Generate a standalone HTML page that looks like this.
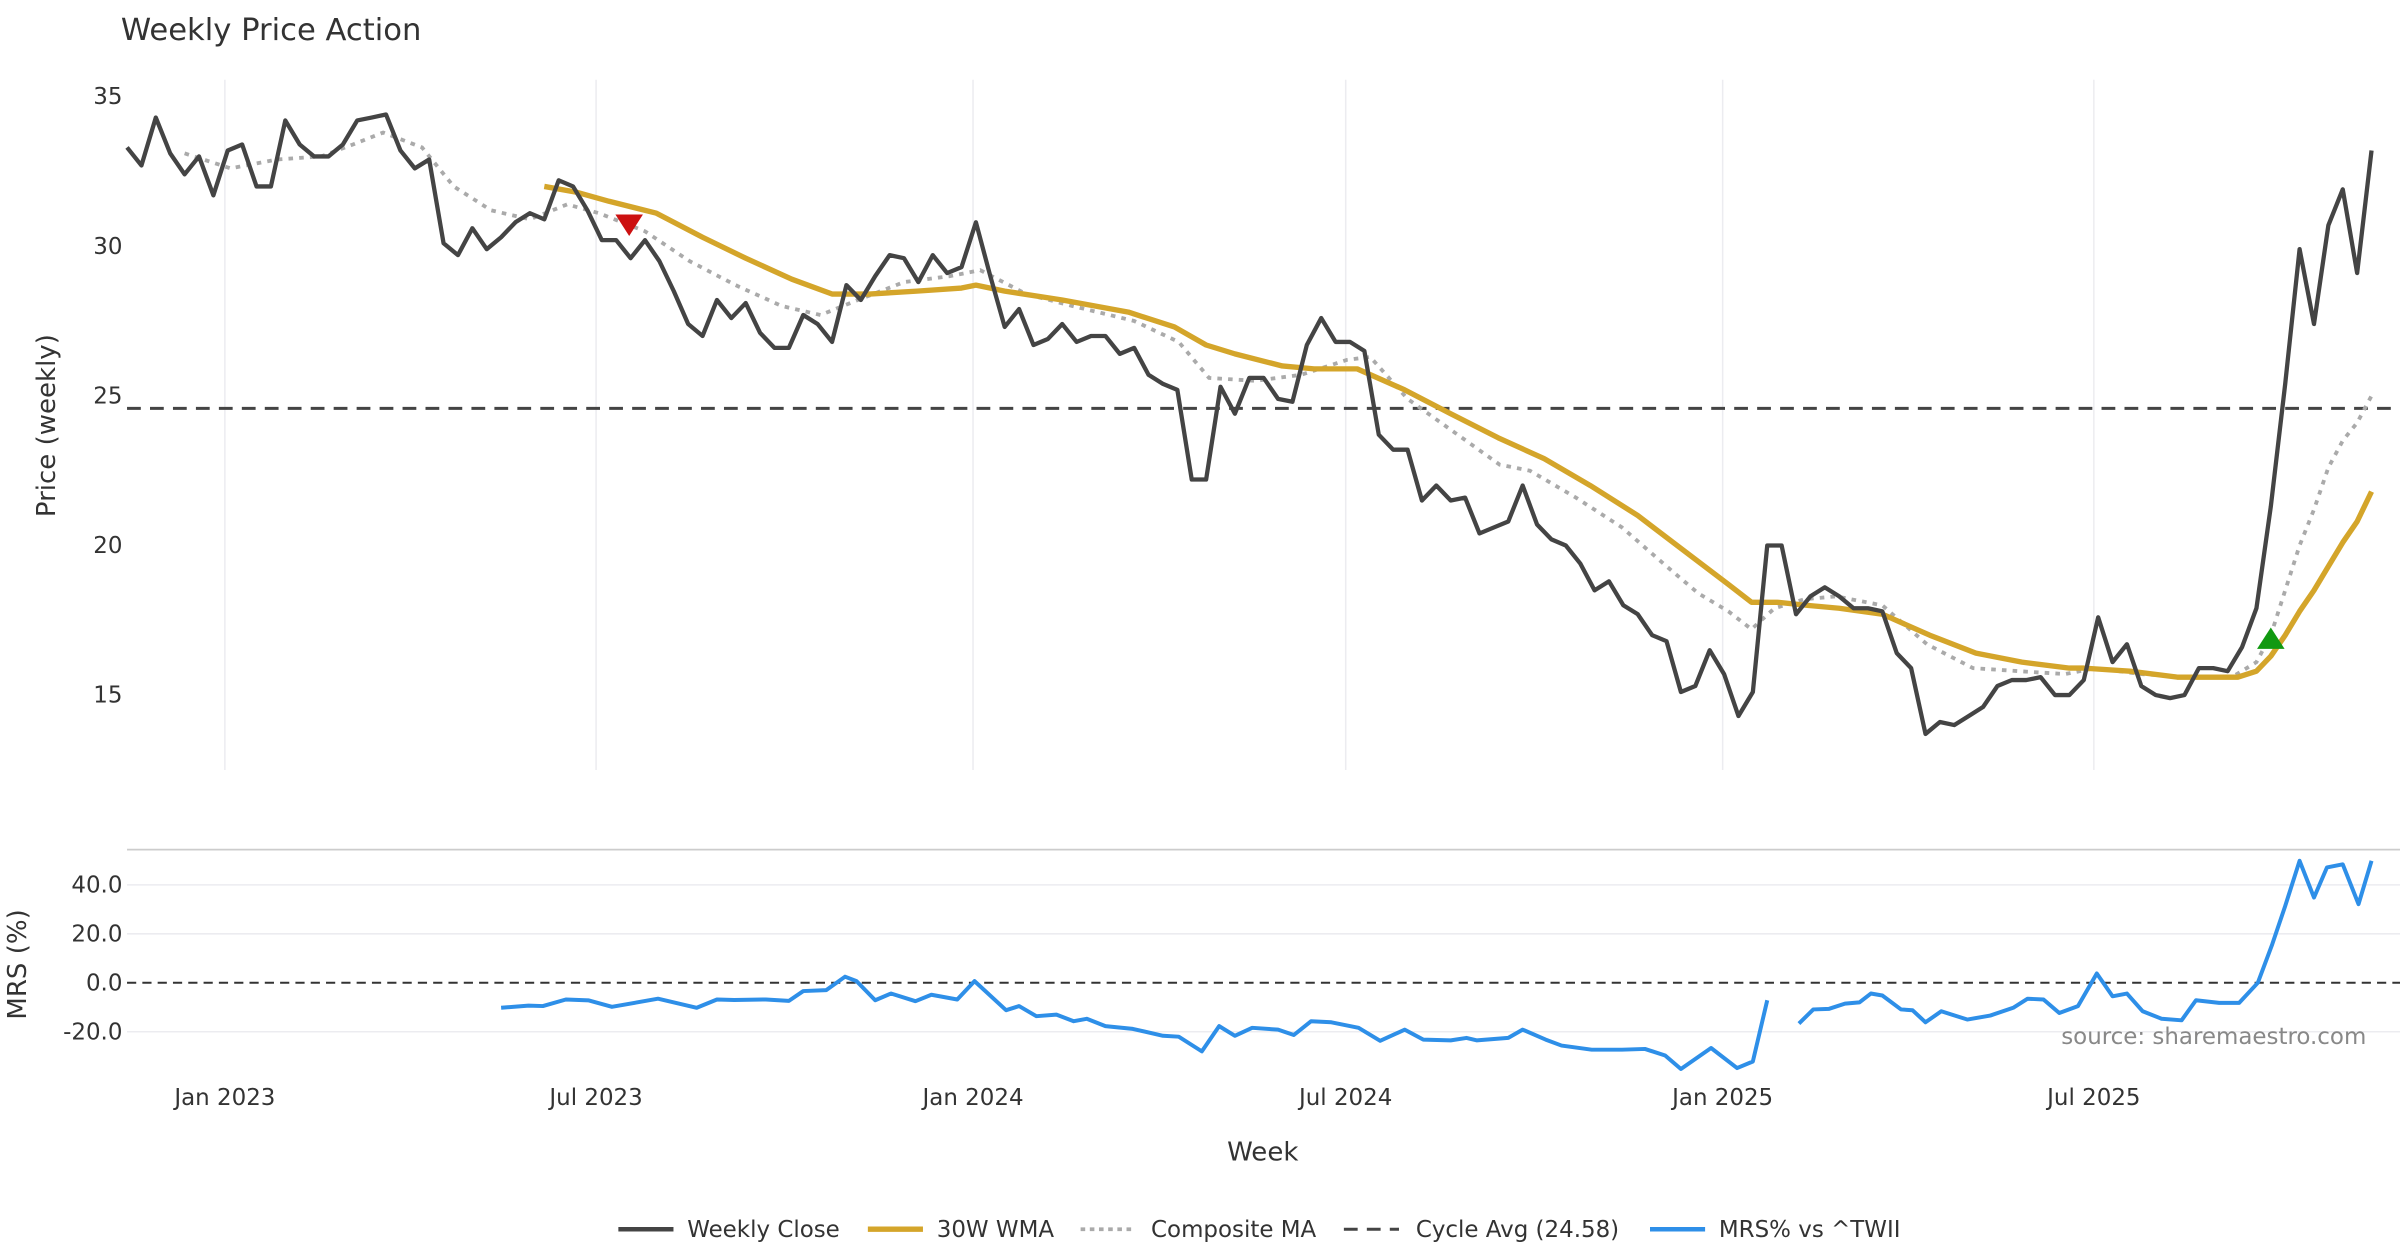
<!DOCTYPE html>
<html><head><meta charset="utf-8"><style>
html,body{margin:0;padding:0;background:#fff;}
svg{display:block;font-family:"DejaVu Sans","Liberation Sans",sans-serif;}
</style></head><body>
<svg id="chart" width="2400" height="1260" viewBox="0 0 1568 823" xmlns="http://www.w3.org/2000/svg">
<text x="79" y="26" font-size="20" fill="#333">Weekly Price Action</text>
<g id="grid"></g>
<g id="price"></g>
<g id="mrs"></g>
<text transform="translate(36,278) rotate(-90)" text-anchor="middle" font-size="17" fill="#333">Price (weekly)</text>
<text transform="translate(17,630) rotate(-90)" text-anchor="middle" font-size="17" fill="#333">MRS (%)</text>
<text x="825" y="758" text-anchor="middle" font-size="17" fill="#333">Week</text>
<text x="1546" y="682" text-anchor="end" font-size="15" fill="#888">source: sharemaestro.com</text>
<g id="legend" font-size="15" fill="#333">
<g><line x1="404" y1="803" x2="440" y2="803" stroke="#444" stroke-width="3"/><text x="449" y="808">Weekly Close</text></g>
<g><line x1="567" y1="803" x2="603" y2="803" stroke="#D4A52A" stroke-width="3.5"/><text x="612" y="808">30W WMA</text></g>
<g><line x1="706" y1="803" x2="742" y2="803" stroke="#aaa" stroke-width="2.5" stroke-dasharray="3,3"/><text x="752" y="808">Composite MA</text></g>
<g><line x1="878" y1="803" x2="914" y2="803" stroke="#444" stroke-width="2" stroke-dasharray="9,6"/><text x="925" y="808">Cycle Avg (24.58)</text></g>
<g><line x1="1078" y1="803" x2="1114" y2="803" stroke="#2E8FE8" stroke-width="3"/><text x="1123" y="808">MRS% vs ^TWII</text></g>
</g>
</svg>
<script>
const closeVals=[33.3,32.7,34.3,33.1,32.4,33.0,31.7,33.2,33.4,32.0,32.0,34.2,33.4,33.0,33.0,33.4,34.2,34.3,34.4,33.2,32.6,32.9,30.1,29.7,30.6,29.9,30.3,30.8,31.1,30.9,32.2,32.0,31.2,30.2,30.2,29.6,30.2,29.5,28.5,27.4,27.0,28.2,27.6,28.1,27.1,26.6,26.6,27.7,27.4,26.8,28.7,28.2,29.0,29.7,29.6,28.8,29.7,29.1,29.3,30.8,29.0,27.3,27.9,26.7,26.9,27.4,26.8,27.0,27.0,26.4,26.6,25.7,25.4,25.2,22.2,22.2,25.3,24.4,25.6,25.6,24.9,24.8,26.7,27.6,26.8,26.8,26.5,23.7,23.2,23.2,21.5,22.0,21.5,21.6,20.4,20.6,20.8,22.0,20.7,20.2,20.0,19.4,18.5,18.8,18.0,17.7,17.0,16.8,15.1,15.3,16.5,15.7,14.3,15.1,20.0,20.0,17.7,18.3,18.6,18.3,17.9,17.9,17.8,16.4,15.9,13.7,14.1,14.0,14.3,14.6,15.3,15.5,15.5,15.6,15.0,15.0,15.5,17.6,16.1,16.7,15.3,15.0,14.9,15.0,15.9,15.9,15.8,16.6,17.9,21.3,25.4,29.9,27.4,30.7,31.9,29.1,33.2];
const wmaWeeks=[29,31.3,33.5,36.8,40,43,46.2,49,51.6,54.9,58,59,61,65,69.6,72.8,75,77,80.3,82.5,85.5,88.8,92,95.3,98.5,101.7,105,108,111.3,112.9,114.7,116.8,119,122,125.3,128.5,131.7,135,136,139.2,142.5,146.7,148,149,150,151,152,153,154,155,156];
const wmaVals=[32.0,31.8,31.5,31.1,30.3,29.6,28.9,28.4,28.4,28.5,28.6,28.7,28.5,28.2,27.8,27.3,26.7,26.4,26.0,25.9,25.9,25.2,24.4,23.6,22.9,22.0,21.0,19.9,18.7,18.1,18.1,18.0,17.9,17.7,17.0,16.4,16.1,15.9,15.9,15.8,15.6,15.6,15.8,16.3,17.0,17.8,18.5,19.3,20.1,20.8,21.8];
const compWeeks=[4,7.2,10.4,13.5,15.7,17.8,20.5,22.7,25.3,28,30.6,32.8,36,39.1,42.3,45.5,48.2,50.8,54,57.2,59.3,62.5,65.7,70,73.1,75.2,78.4,81.6,84.8,86.4,89,92.2,95.4,97.5,100.7,103.9,107,109.2,111.3,112.9,114.5,116.6,118.8,122,125.1,128.3,131.5,134.7,136.8,140,143.2,146.3,148,149,150,151,152,153,154,155,156];
const compVals=[33.1,32.6,32.9,33.0,33.4,33.8,33.3,32.0,31.2,30.9,31.4,31.1,30.5,29.5,28.7,28.0,27.7,28.2,28.8,29.0,29.2,28.4,28.0,27.5,26.8,25.6,25.5,25.7,26.2,26.3,24.9,23.8,22.7,22.5,21.6,20.6,19.3,18.4,17.8,17.2,17.9,18.2,18.3,18.0,16.7,15.9,15.8,15.7,15.9,15.7,15.6,15.6,16.1,17.0,18.5,20.0,21.2,22.6,23.5,24.1,25.0];
const mrsWeeks=[26.0,27.9,28.9,30.5,32.1,33.7,36.9,39.6,41.0,42.2,44.4,46.0,47.0,48.6,49.9,50.7,52.0,53.1,54.8,55.9,57.7,58.9,61.1,62.0,63.2,64.6,65.8,66.7,68.0,69.9,72.0,73.1,74.7,75.9,77.0,78.2,80.0,81.1,82.3,83.7,85.6,87.1,88.8,90.1,92.0,93.1,93.8,96.0,97.0,98.6,99.7,101.8,103.9,105.5,106.9,108.0,110.1,111.9,113.0,114.0,null,116.2,117.2,118.3,119.4,120.4,121.2,122.0,123.3,124.1,125.0,126.1,127.9,129.5,131.1,132.1,133.2,134.3,135.6,136.9,138.0,139.0,140.1,141.4,142.8,143.8,145.4,146.8,148.1,149.1,150.0,151.0,152.0,152.9,154.0,155.1,156.0];
const mrsVals=[-10.2,-9.3,-9.5,-6.8,-7.2,-9.8,-6.5,-10.2,-6.8,-7.0,-6.8,-7.4,-3.4,-3.0,2.5,0.7,-7.1,-4.4,-7.5,-4.9,-6.8,0.7,-11.2,-9.5,-13.6,-13.0,-15.7,-14.7,-17.7,-18.8,-21.6,-22.0,-28.0,-17.7,-21.6,-18.4,-19.1,-21.3,-15.7,-16.1,-18.4,-23.7,-19.1,-23.2,-23.5,-22.5,-23.5,-22.5,-19.1,-23.2,-25.6,-27.3,-27.3,-27.0,-29.7,-35.2,-26.6,-34.8,-32.1,-7.1,null,-16.6,-10.9,-10.6,-8.5,-8.0,-4.4,-5.2,-10.9,-11.2,-16.1,-11.6,-15.0,-13.4,-10.2,-6.5,-6.8,-12.3,-9.5,3.8,-5.5,-4.4,-11.6,-14.7,-15.3,-7.1,-8.2,-8.2,0.0,15.7,31.4,49.8,34.8,47.1,48.4,32.1,49.8];
const cycleAvg=24.58;
const priceTicks=[15,20,25,30,35];
const mrsTicks=[-20,0,20,40];
const dateWeeks=[6.8,32.6,58.8,84.7,110.9,136.7];
const dateLabels=["Jan 2023","Jul 2023","Jan 2024","Jul 2024","Jan 2025","Jul 2025"];
const sellWeek=34.9, sellPrice=30.7, buyWeek=149.0, buyPrice=16.9;

const NS="http://www.w3.org/2000/svg";
const X=i=>83+i*9.4;
const YP=v=>63+(35-v)*19.55;
const YM=v=>642-v*1.6;
function mk(tag,attrs,parent){const e=document.createElementNS(NS,tag);for(const k in attrs)e.setAttribute(k,attrs[k]);parent.appendChild(e);return e;}
const grid=document.getElementById('grid'),price=document.getElementById('price'),mrs=document.getElementById('mrs');

dateWeeks.forEach((w,k)=>{
  const l=mk('line',{x1:X(w),x2:X(w),y1:52,y2:503,stroke:'#ececf0','stroke-width':1},grid);
  
  
  const t=mk('text',{x:X(w),y:722,'text-anchor':'middle','font-size':15,fill:'#333'},grid);
  t.textContent=dateLabels[k];
  
  
});
priceTicks.forEach(v=>{
  const t=mk('text',{x:80,y:YP(v)+5,'text-anchor':'end','font-size':15,fill:'#333'},grid);
  t.textContent=v;
  
  
});
const sep=mk('line',{x1:83,x2:1568,y1:555,y2:555,stroke:'#ccc','stroke-width':1.2},grid);


mrsTicks.forEach(v=>{
  if(v!==0){const g=mk('line',{x1:83,x2:1568,y1:YM(v),y2:YM(v),stroke:'#ececf0','stroke-width':1},grid);
  
  }
  const t=mk('text',{x:80,y:YM(v)+5,'text-anchor':'end','font-size':15,fill:'#333'},grid);
  t.textContent=v.toFixed(1);
  
  
});
const zl=mk('line',{x1:83,x2:1568,y1:YM(0),y2:YM(0),stroke:'#333','stroke-width':1.3,'stroke-dasharray':'6,4'},mrs);



const ca=mk('line',{x1:83,x2:1568,y1:YP(cycleAvg),y2:YP(cycleAvg),stroke:'#444','stroke-width':2,'stroke-dasharray':'9,6'},price);



function path(ws,vs,ys){let d='',pen=false;ws.forEach((w,k)=>{if(w===null||vs[k]===null){pen=false;return;}d+=(pen?'L':'M')+X(w).toFixed(1)+','+ys(vs[k]).toFixed(1);pen=true;});return d;}
const cp=mk('path',{d:path(compWeeks,compVals,YP),fill:'none',stroke:'#aaa','stroke-width':2.5,'stroke-dasharray':'3,4'},price);


const wp=mk('path',{d:path(wmaWeeks,wmaVals,YP),fill:'none',stroke:'#D4A52A','stroke-width':3.5,'stroke-linejoin':'round'},price);


const pp=mk('path',{d:path(closeVals.map((v,i)=>i),closeVals,YP),fill:'none',stroke:'#444','stroke-width':2.8,'stroke-linejoin':'round'},price);


const sx=X(sellWeek),sy=YP(sellPrice);
const sm=mk('polygon',{points:`${sx-9},${sy-7} ${sx+9},${sy-7} ${sx},${sy+7}`,fill:'#CC1111'},price);


const bx=X(buyWeek),by=YP(buyPrice);
const bm=mk('polygon',{points:`${bx-9},${by+7} ${bx+9},${by+7} ${bx},${by-7}`,fill:'#119911'},price);


const mp=mk('path',{d:path(mrsWeeks,mrsVals,YM),fill:'none',stroke:'#2E8FE8','stroke-width':2.6,'stroke-linejoin':'round'},mrs);


</script>
</body></html>
